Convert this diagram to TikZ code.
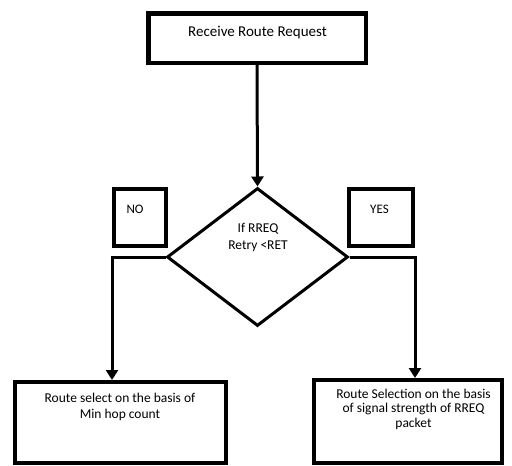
\documentclass[tikz,border=0pt]{standalone}
\usepackage{fontspec}
\setmainfont{Carlito}
\usetikzlibrary{shapes.geometric,arrows.meta}
\begin{document}
\begin{tikzpicture}[x=1pt,y=-1pt,
  box/.style={draw=black,line width=4.5pt,inner sep=0pt},
  smallbox/.style={draw=black,line width=4pt,inner sep=0pt},
  dec/.style={draw=black,line width=3pt,diamond,inner sep=0pt},
  txt/.style={inner sep=0pt,align=center,text=black},
  conn/.style={draw=black,line width=3pt,-{Triangle[width=12pt,length=10pt]}}
]
\useasboundingbox (0,0) rectangle (512,466);
% boxes
\node[box,minimum width=217.5pt,minimum height=49.5pt] (top) at (257,38) {};
\node[txt,font=\fontsize{15}{18}\selectfont] (toptext) at (257.5,33) {Receive Route Request};
\node[dec,minimum width=181pt,minimum height=138pt] (dia) at (257.5,257) {};
\node[txt,font=\fontsize{13.5}{17}\selectfont] (diatext) at (258,237) {If RREQ\\Retry <RET};
\node[smallbox,minimum width=52pt,minimum height=57pt] (no) at (140,217.5) {};
\node[txt,font=\fontsize{13}{14}\selectfont] (notext) at (135,209) {NO};
\node[smallbox,minimum width=64pt,minimum height=57pt] (yes) at (381,217.5) {};
\node[txt,font=\fontsize{13}{14}\selectfont] (yestext) at (379.5,209) {YES};
\node[smallbox,minimum width=211pt,minimum height=81pt] (lb) at (120.5,422.5) {};
\node[txt,font=\fontsize{13.5}{16}\selectfont] (lbtext) at (120,407) {Route select on the basis of\\Min hop count};
\node[smallbox,minimum width=188pt,minimum height=83pt] (rb) at (408,421.5) {};
\node[txt,font=\fontsize{13.5}{14.5}\selectfont] (rbtext) at (413.5,409) {Route Selection on the basis\\of signal strength of RREQ\\packet};
% connectors
\draw[conn] (top.south) -- (dia.north);
\draw[conn] (dia.west) -| (no.west |- lb.north);
\draw[conn] (dia.east) -| (yes.east |- rb.north);
\end{tikzpicture}
\end{document}
